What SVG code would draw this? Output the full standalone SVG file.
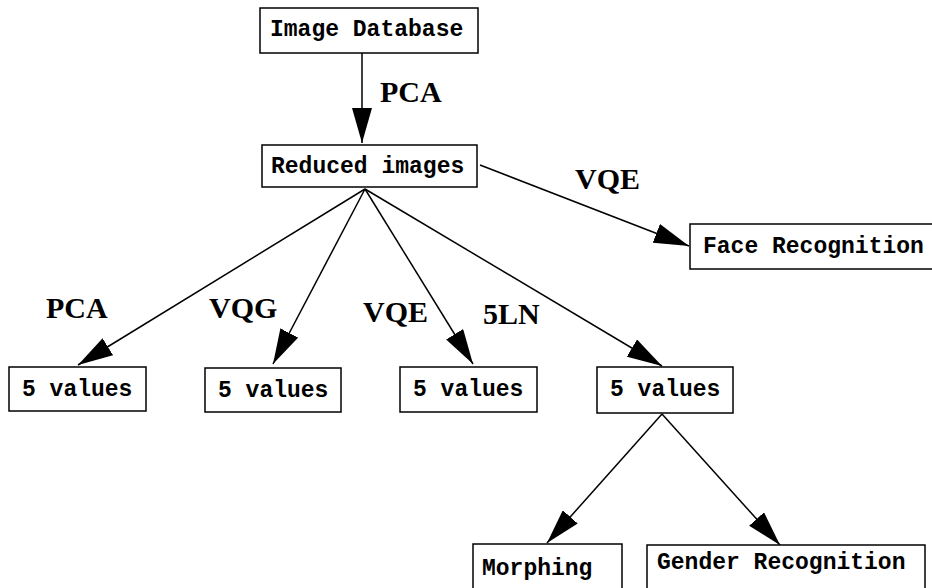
<svg xmlns="http://www.w3.org/2000/svg" width="932" height="588" viewBox="0 0 932 588">
<style>
  .box { fill: #fff; stroke: #000; stroke-width: 1.5; }
  .nt { font-family: "Liberation Mono", "Courier New", monospace; font-weight: bold; font-size: 23px; fill: #000; }
  .el { font-family: "Liberation Serif", "Times New Roman", serif; font-weight: bold; font-size: 30px; fill: #000; }
  .edge { stroke: #000; stroke-width: 1.5; fill: none; marker-end: url(#ah); }
</style>
<defs>
  <marker id="ah" viewBox="0 0 35 20" refX="35" refY="10" markerWidth="35" markerHeight="20" markerUnits="userSpaceOnUse" orient="auto">
    <path d="M0,0 L35,10 L0,20 Z" fill="#000"/>
  </marker>
</defs>
<rect width="932" height="588" fill="#fff"/>
<g id="connectors">
  <line class="edge" x1="362" y1="53" x2="362" y2="143"/>
  <line class="edge" x1="480" y1="165" x2="689" y2="246"/>
  <line class="edge" x1="365" y1="189" x2="78" y2="365"/>
  <line class="edge" x1="365" y1="189" x2="273" y2="364"/>
  <line class="edge" x1="365" y1="189" x2="473" y2="364"/>
  <line class="edge" x1="365" y1="189" x2="662" y2="366"/>
  <line class="edge" x1="662" y1="414" x2="547" y2="543"/>
  <line class="edge" x1="662" y1="414" x2="780" y2="545"/>
</g>
<g id="edge-labels">
  <text class="el" x="380" y="102">PCA</text>
  <text class="el" x="575" y="189">VQE</text>
  <text class="el" x="46" y="318">PCA</text>
  <text class="el" x="209" y="318">VQG</text>
  <text class="el" x="363" y="322">VQE</text>
  <text class="el" x="483" y="324">5LN</text>
</g>
<g id="image-database">
  <rect class="box" x="260" y="8" width="218" height="45"/>
  <text class="nt" x="270" y="36">Image Database</text>
</g>
<g id="reduced-images">
  <rect class="box" x="262" y="145" width="215" height="42"/>
  <text class="nt" x="271" y="173">Reduced images</text>
</g>
<g id="face-recognition">
  <rect class="box" x="690" y="224" width="245" height="45"/>
  <text class="nt" x="703" y="253">Face Recognition</text>
</g>
<g id="values-pca">
  <rect class="box" x="9" y="367" width="137" height="44"/>
  <text class="nt" x="22" y="396">5 values</text>
</g>
<g id="values-vqg">
  <rect class="box" x="205" y="368" width="136" height="44"/>
  <text class="nt" x="218" y="397">5 values</text>
</g>
<g id="values-vqe">
  <rect class="box" x="400" y="367" width="137" height="45"/>
  <text class="nt" x="413" y="396">5 values</text>
</g>
<g id="values-5ln">
  <rect class="box" x="597" y="367" width="136" height="46"/>
  <text class="nt" x="610" y="396">5 values</text>
</g>
<g id="morphing">
  <rect class="box" x="473" y="544" width="149" height="50"/>
  <text class="nt" x="482" y="575">Morphing</text>
</g>
<g id="gender-recognition">
  <rect class="box" x="647" y="545" width="278" height="50"/>
  <text class="nt" x="657" y="569">Gender Recognition</text>
</g>
</svg>
